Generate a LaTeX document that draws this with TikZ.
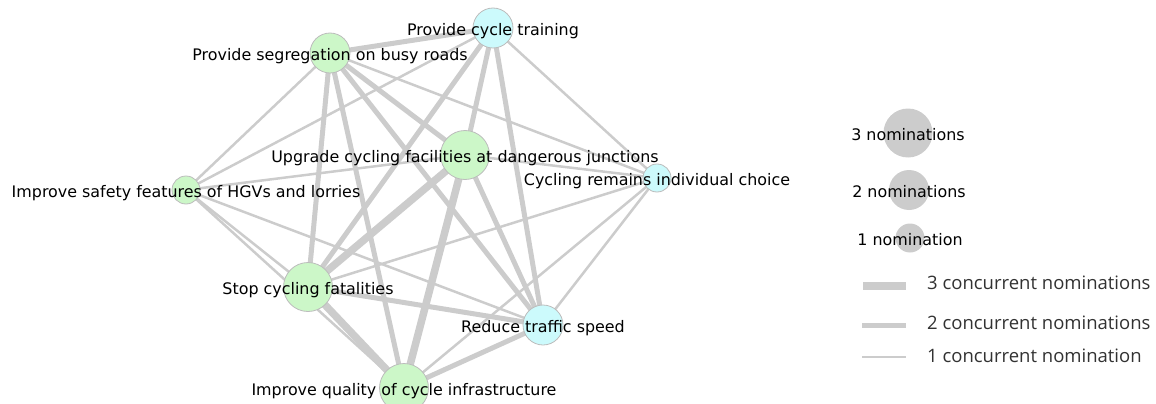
\documentclass[tikz,border=0pt]{standalone}
\usepackage{fontspec}
\setmainfont{DejaVu Sans}
\newfontfamily\keyfont{Open Sans}
\usetikzlibrary{backgrounds}
\definecolor{ideagreen}{RGB}{204,247,200}
\definecolor{ideacyan}{RGB}{204,250,252}
\definecolor{linkgrey}{RGB}{204,204,204}
\definecolor{rimgrey}{RGB}{188,188,188}
\definecolor{keytext}{RGB}{50,50,50}

\begin{document}
\begin{tikzpicture}[x=1pt,y=-1pt,
  font=\fontsize{15.9}{18}\selectfont,
  idea/.style={circle,draw=rimgrey,line width=0.8pt,inner sep=0pt,minimum size=#1},
  greenidea/.style={idea=#1,fill=ideagreen},
  cyanidea/.style={idea=#1,fill=ideacyan},
  keydot/.style={circle,fill=linkgrey,inner sep=0pt,minimum size=#1},
  tag/.style={text height=11.5pt,text depth=0pt,inner sep=0pt,yshift=-1.5pt},
  keytag/.style={font=\keyfont\fontsize{18.5}{22}\selectfont,text=keytext,
    anchor=west,text height=13.2pt,text depth=0pt,inner sep=0pt},
  one/.style={linkgrey,line width=2.5pt},
  two/.style={linkgrey,line width=5pt},
  three/.style={linkgrey,line width=7.5pt}]
\useasboundingbox (0,0) rectangle (1156,404);

% ideas
\node[cyanidea=40pt,label={[tag]center:Provide cycle training}] (train) at (493,28) {};
\node[greenidea=40pt,label={[tag]center:Provide segregation on busy roads}] (segr) at (330,53) {};
\node[greenidea=49pt,label={[tag]center:Upgrade cycling facilities at dangerous junctions}] (junc) at (465,155) {};
\node[cyanidea=28pt,label={[tag]center:Cycling remains individual choice}] (choice) at (657,178) {};
\node[greenidea=28pt,label={[tag]center:Improve safety features of HGVs and lorries}] (hgv) at (186,190) {};
\node[greenidea=49pt,label={[tag]center:Stop cycling fatalities}] (fatal) at (308,287) {};
\node[cyanidea=40pt,label={[tag]center:Reduce traffic speed}] (speed) at (543,325) {};
\node[greenidea=49pt,label={[tag]center:Improve quality of cycle infrastructure}] (infra) at (404,388) {};

% links
\begin{scope}[on background layer]
\draw[three] (junc.center) -- (fatal.center);
\draw[three] (junc.center) -- (infra.center);
\draw[three] (fatal.center) -- (infra.center);
\draw[two] (segr.center) -- (train.center);
\draw[two] (segr.center) -- (fatal.center);
\draw[two] (segr.center) -- (infra.center);
\draw[two] (segr.center) -- (junc.center);
\draw[two] (segr.center) -- (speed.center);
\draw[two] (train.center) -- (junc.center);
\draw[two] (train.center) -- (fatal.center);
\draw[two] (train.center) -- (speed.center);
\draw[two] (junc.center) -- (speed.center);
\draw[two] (fatal.center) -- (speed.center);
\draw[two] (infra.center) -- (speed.center);
\draw[one] (segr.center) -- (hgv.center);
\draw[one] (segr.center) -- (choice.center);
\draw[one] (train.center) -- (hgv.center);
\draw[one] (train.center) -- (choice.center);
\draw[one] (junc.center) -- (hgv.center);
\draw[one] (junc.center) -- (choice.center);
\draw[one] (hgv.center) -- (fatal.center);
\draw[one] (hgv.center) -- (infra.center);
\draw[one] (hgv.center) -- (speed.center);
\draw[one] (fatal.center) -- (choice.center);
\draw[one] (infra.center) -- (choice.center);
\draw[one] (speed.center) -- (choice.center);
\end{scope}

% key
\node[keydot=49pt,label={[tag]center:3 nominations}] (dot3) at (908,133) {};
\node[keydot=40pt,label={[tag]center:2 nominations}] (dot2) at (909,190) {};
\node[keydot=29pt,label={[tag]center:1 nomination}] (dot1) at (910,238) {};
\node[keytag] (key3) at (927,283) {3 concurrent nominations};
\node[keytag] (key2) at (927,323) {2 concurrent nominations};
\node[keytag] (key1) at (927,356) {1 concurrent nomination};
\draw[three] (863,286) -- (906,286);
\draw[two] (862,325) -- (906,325);
\draw[one] (862,357) -- (906,357);
\end{tikzpicture}
\end{document}
